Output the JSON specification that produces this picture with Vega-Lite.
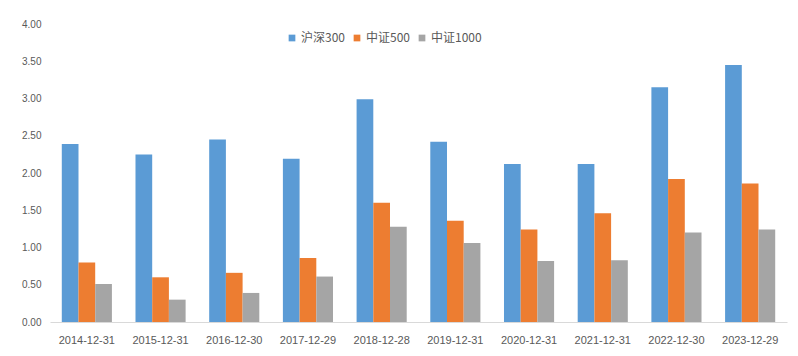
{
  "$schema": "https://vega.github.io/schema/vega-lite/v6.json",
  "width": 737,
  "height": 298,
  "autosize": {"type": "none"},
  "padding": {"left": 50, "top": 24, "right": 11, "bottom": 34},
  "background": "white",
  "config": {
    "view": {"stroke": null},
    "font": "Liberation Sans"
  },
  "data": {
    "values": [
      {"date": "2014-12-31", "index": "沪深300", "value": 2.39},
      {"date": "2014-12-31", "index": "中证500", "value": 0.80},
      {"date": "2014-12-31", "index": "中证1000", "value": 0.51},
      {"date": "2015-12-31", "index": "沪深300", "value": 2.25},
      {"date": "2015-12-31", "index": "中证500", "value": 0.60},
      {"date": "2015-12-31", "index": "中证1000", "value": 0.30},
      {"date": "2016-12-30", "index": "沪深300", "value": 2.45},
      {"date": "2016-12-30", "index": "中证500", "value": 0.66},
      {"date": "2016-12-30", "index": "中证1000", "value": 0.39},
      {"date": "2017-12-29", "index": "沪深300", "value": 2.19},
      {"date": "2017-12-29", "index": "中证500", "value": 0.86},
      {"date": "2017-12-29", "index": "中证1000", "value": 0.61},
      {"date": "2018-12-28", "index": "沪深300", "value": 2.99},
      {"date": "2018-12-28", "index": "中证500", "value": 1.60},
      {"date": "2018-12-28", "index": "中证1000", "value": 1.28},
      {"date": "2019-12-31", "index": "沪深300", "value": 2.42},
      {"date": "2019-12-31", "index": "中证500", "value": 1.36},
      {"date": "2019-12-31", "index": "中证1000", "value": 1.06},
      {"date": "2020-12-31", "index": "沪深300", "value": 2.12},
      {"date": "2020-12-31", "index": "中证500", "value": 1.24},
      {"date": "2020-12-31", "index": "中证1000", "value": 0.82},
      {"date": "2021-12-31", "index": "沪深300", "value": 2.12},
      {"date": "2021-12-31", "index": "中证500", "value": 1.46},
      {"date": "2021-12-31", "index": "中证1000", "value": 0.83},
      {"date": "2022-12-30", "index": "沪深300", "value": 3.15},
      {"date": "2022-12-30", "index": "中证500", "value": 1.92},
      {"date": "2022-12-30", "index": "中证1000", "value": 1.20},
      {"date": "2023-12-29", "index": "沪深300", "value": 3.45},
      {"date": "2023-12-29", "index": "中证500", "value": 1.86},
      {"date": "2023-12-29", "index": "中证1000", "value": 1.24}
    ]
  },
  "mark": {"type": "bar"},
  "encoding": {
    "x": {
      "field": "date",
      "type": "nominal",
      "sort": null,
      "title": null,
      "scale": {"paddingInner": 0.32, "paddingOuter": 0.16},
      "axis": {
        "labelAngle": 0,
        "labelFontSize": 11,
        "labelColor": "#595959",
        "labelPadding": 12,
        "ticks": false,
        "domainColor": "#D9D9D9",
        "domainWidth": 1
      }
    },
    "xOffset": {
      "field": "index",
      "type": "nominal",
      "sort": ["沪深300", "中证500", "中证1000"],
      "scale": {"paddingInner": 0, "paddingOuter": 0}
    },
    "y": {
      "field": "value",
      "type": "quantitative",
      "title": null,
      "scale": {"domain": [0, 4], "nice": false},
      "axis": {
        "values": [0, 0.5, 1, 1.5, 2, 2.5, 3, 3.5, 4],
        "format": ".2f",
        "labelFontSize": 10,
        "labelColor": "#595959",
        "labelPadding": 9,
        "ticks": false,
        "domain": false,
        "grid": false
      }
    },
    "color": {
      "field": "index",
      "type": "nominal",
      "sort": ["沪深300", "中证500", "中证1000"],
      "scale": {
        "domain": ["沪深300", "中证500", "中证1000"],
        "range": ["#5B9BD5", "#ED7D31", "#A5A5A5"]
      },
      "legend": {
        "title": null,
        "orient": "none",
        "direction": "horizontal",
        "legendX": 236,
        "legendY": 8,
        "symbolType": "square",
        "symbolSize": 45,
        "symbolStrokeWidth": 0,
        "labelFont": "Noto Sans CJK SC",
        "labelFontSize": 12,
        "labelColor": "#595959",
        "labelOffset": 3,
        "columnPadding": 6
      }
    }
  }
}
